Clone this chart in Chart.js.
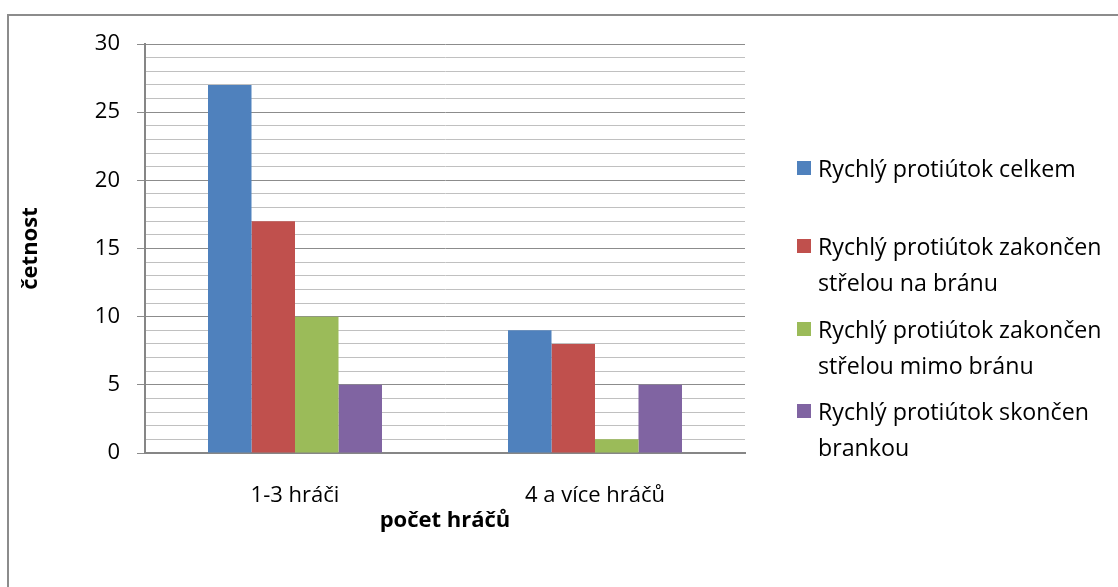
<!DOCTYPE html>
<html>
<head>
<meta charset="utf-8">
<script src="https://cdn.jsdelivr.net/npm/chart.js@4"></script>
<style>
  html, body { margin: 0; padding: 0; background: #fff; overflow: hidden; }
  #wrap { position: relative; width: 1118px; height: 587px; overflow: hidden; }
  #frame { position: absolute; left: 7px; top: 14px; width: 1200px; height: 700px; border: 2px solid #8c8c8c; }
  canvas { position: absolute; left: 0; top: 0; }
  .legend { position: absolute; left: 797px; font-family: "Open Sans", sans-serif; font-size: 23.2px; color: #000; line-height: 36px; }
  .legend .item { position: absolute; left: 0; width: 320px; }
  .legend .sw { position: absolute; left: 0; top: 11px; width: 14px; height: 14px; }
  .legend .txt { position: absolute; left: 21px; white-space: nowrap; }
</style>
</head>
<body>
<div id="wrap">
  <div id="frame"></div>
  <canvas id="chart" width="1118" height="587"></canvas>
  <div class="legend" id="legend"></div>
</div>
<script>
const categories = ['1-3 hráči', '4 a více hráčů'];
const seriesNames = [
  ['Rychlý protiútok celkem'],
  ['Rychlý protiútok zakončen', 'střelou na bránu'],
  ['Rychlý protiútok zakončen', 'střelou mimo bránu'],
  ['Rychlý protiútok skončen', 'brankou']
];
const celkem = [27, 9];
const naBranu = [17, 8];
const mimoBranu = [10, 1];
const brankou = [5, 5];
const colors = ['#4F81BD', '#C0504D', '#9BBB59', '#8064A2'];
const legendTops = [150, 228, 311, 393];

const font = { family: '"Open Sans", sans-serif', size: 22 };
const values = [celkem, naBranu, mimoBranu, brankou];

new Chart(document.getElementById('chart'), {
  type: 'bar',
  data: {
    labels: categories,
    datasets: values.map((v, i) => ({
      label: seriesNames[i].join(' '),
      data: v,
      backgroundColor: colors[i],
      borderWidth: 0,
      categoryPercentage: 0.58,
      barPercentage: 1,
    })),
  },
  options: {
    responsive: false,
    animation: false,
    layout: { padding: { left: 18, top: 44, right: 373, bottom: 53 } },
    plugins: { legend: { display: false }, tooltip: { enabled: false } },
    scales: {
      x: {
        grid: { display: true, drawOnChartArea: false, drawTicks: false },
        border: { display: true, color: '#868686', width: 2 },
        ticks: { color: '#000', font: font, padding: 30 },
        title: { display: true, text: 'počet hráčů', color: '#000', font: { ...font, weight: 'bold' }, padding: 0 },
        afterFit: s => { s.height = 81; },
      },
      y: {
        min: 0,
        max: 30,
        ticks: {
          stepSize: 1,
          autoSkip: false,
          color: '#000',
          font: font,
          padding: 17,
          callback: v => (v % 5 === 0 ? v : ''),
        },
        grid: {
          color: c => (c.tick && c.tick.value % 5 === 0 ? '#8c8c8c' : '#c0c0c0'),
          tickColor: c => (c.tick && c.tick.value % 5 === 0 ? '#8c8c8c' : 'rgba(0,0,0,0)'),
          tickLength: 8,
          lineWidth: 1,
        },
        border: { display: true, color: '#868686', width: 2 },
        title: { display: true, text: 'četnost', color: '#000', font: { ...font, weight: 'bold' }, padding: 0 },
        afterFit: s => { s.width = 127; },
      },
    },
  },
});

const legend = document.getElementById('legend');
seriesNames.forEach((lines, i) => {
  const item = document.createElement('div');
  item.className = 'item';
  item.style.top = legendTops[i] + 'px';
  item.innerHTML = '<div class="sw" style="background:' + colors[i] + '"></div>' +
    '<div class="txt">' + lines.join('<br>') + '</div>';
  legend.appendChild(item);
});
</script>
</body>
</html>
